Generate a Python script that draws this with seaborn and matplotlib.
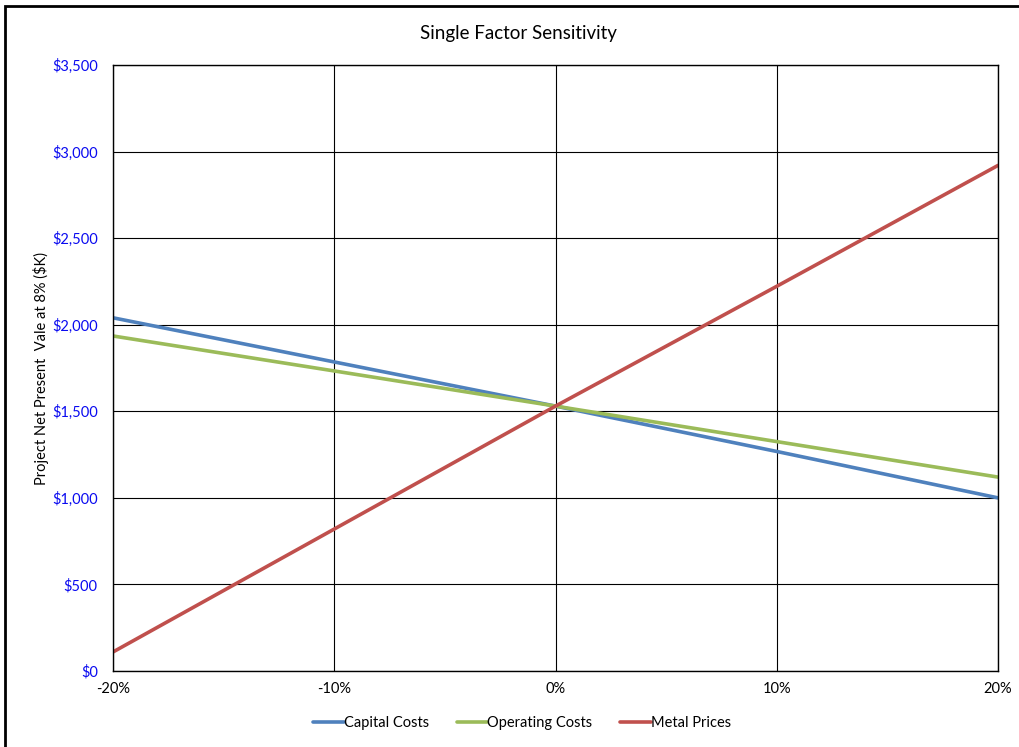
import matplotlib
matplotlib.use("Agg")
import matplotlib.pyplot as plt
import matplotlib.ticker as mticker
from matplotlib.patches import Rectangle
import pandas as pd
import seaborn as sns

# Sensitivity range and NPV results ($K)
changes = [-0.20, -0.10, 0.0, 0.10, 0.20]
capital_costs = [2040, 1785, 1530, 1268, 1000]
operating_costs = [1935, 1733, 1530, 1325, 1120]
metal_prices = [110, 820, 1530, 2222, 2920]
series_names = ["Capital Costs", "Operating Costs", "Metal Prices"]
palette = ["#4F81BD", "#9BBB59", "#C0504D"]

df = pd.DataFrame({
    "change": changes * 3,
    "npv": capital_costs + operating_costs + metal_prices,
    "factor": [n for n in series_names for _ in changes],
})

sns.set_theme(style="white")
plt.rcParams["font.family"] = ["Lato", "DejaVu Sans"]
plt.rcParams["text.color"] = "black"

fig = plt.figure(figsize=(10.19, 7.47), dpi=100)
ax = fig.add_axes([0.1109, 0.1017, 0.8685, 0.8113])

sns.lineplot(data=df, x="change", y="npv", hue="factor", palette=palette,
             hue_order=series_names, linewidth=2.6, ax=ax, legend=True)

ax.set_xlim(-0.20, 0.20)
ax.set_ylim(0, 3500)
ax.set_xticks([-0.20, -0.10, 0.0, 0.10, 0.20])
ax.set_yticks(range(0, 3501, 500))
ax.xaxis.set_major_formatter(mticker.FuncFormatter(lambda v, p: f"{v*100:.0f}%"))
ax.yaxis.set_major_formatter(mticker.FuncFormatter(lambda v, p: f"${v:,.0f}"))
ax.grid(True, color="black", linewidth=0.8)
ax.set_axisbelow(True)
for s in ax.spines.values():
    s.set_color("black")
    s.set_linewidth(1.0)
ax.tick_params(axis="y", colors="#0A0AF0", labelsize=10.5, pad=11, length=0)
ax.tick_params(axis="x", colors="black", labelsize=10.5, pad=8, length=0)
for lbl in ax.get_yticklabels():
    lbl.set_color("#0A0AF0")
for lbl in ax.get_xticklabels():
    lbl.set_color("black")

ax.set_xlabel("")
ax.set_ylabel("Project Net Present  Vale at 8% ($K)", fontsize=10.5, color="black", labelpad=2)
fig.text(0.5085, 0.955, "Single Factor Sensitivity", ha="center", va="center",
         fontsize=13.5, color="black")

leg = ax.legend(loc="upper center", bbox_to_anchor=(0.462, -0.052), ncol=3, frameon=False,
                fontsize=10.5, handlelength=2.1, handletextpad=0.0, columnspacing=1.9)
for h in leg.get_lines():
    h.set_linewidth(2.6)
for t in leg.get_texts():
    t.set_color("black")

# outer chart border
fig.add_artist(Rectangle((0.0045, -0.01), 1.1, 1.002, transform=fig.transFigure,
                         fill=False, edgecolor="black", linewidth=2.0))

fig.savefig("out.png", dpi=100)
